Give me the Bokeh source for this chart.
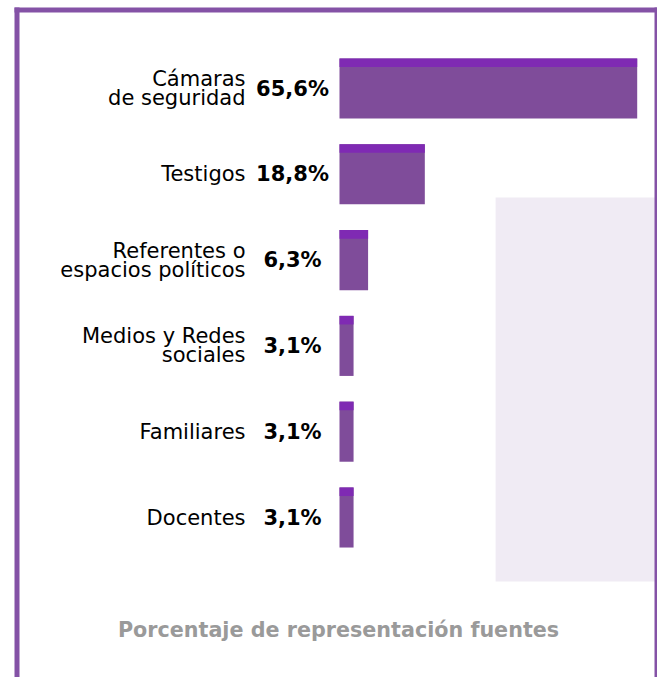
from bokeh.plotting import figure
from bokeh.models import Range1d, ColumnDataSource, BoxAnnotation
from bokeh.core.properties import value
from bokeh.embed import file_html
from bokeh.resources import INLINE

categories = ["Cámaras\nde seguridad", "Testigos", "Referentes o\nespacios políticos",
              "Medios y Redes\nsociales", "Familiares", "Docentes"]
values = [65.6, 18.8, 6.3, 3.1, 3.1, 3.1]
labels = ["65,6%", "18,8%", "6,3%", "3,1%", "3,1%", "3,1%"]
caption = "Porcentaje de representación fuentes"

n = len(categories)
ypos = [n - 1 - i for i in range(n)]

W, H = 657, 677
px_per_pct = 297.7 / 65.6
x0_px = 339.0
row_px = 85.8
y0_px = 517.0
FONT = "DejaVu Sans"

p = figure(width=W, height=H, output_backend="svg", toolbar_location=None,
           x_range=Range1d(-x0_px / px_per_pct, (W - x0_px) / px_per_pct),
           y_range=Range1d(-(H - y0_px) / row_px, y0_px / row_px),
           min_border=0, background_fill_color="white", border_fill_color="white")
p.axis.visible = False
p.grid.visible = False
p.outline_line_color = None

# decorative light panel
p.quad(left=[34.4], right=[90], bottom=[-0.746], top=[3.73],
       fill_color="#f0ebf4", line_color=None)

src = ColumnDataSource(dict(y=ypos, v=values, cat=categories, lab=labels,
                            ys=[y + 0.35 - 0.05 for y in ypos]))
p.hbar(y="y", left=0, right="v", height=0.7, source=src,
       fill_color="#7f4c9a", line_color=None)
p.hbar(y="ys", left=0, right="v", height=0.1, source=src,
       fill_color="#7f2ab3", line_color=None)

p.text(x=0, y="y", text="lab", source=src, x_offset=-47, text_align="center",
       text_baseline="middle", text_font=value(FONT), text_font_style="bold",
       text_font_size="21px", text_color="#000000")
p.text(x=0, y="y", text="cat", source=src, x_offset=-94, text_align="right",
       text_baseline="middle", text_font=value(FONT),
       text_font_size="21px", text_color="#000000", text_line_height=0.79)

p.text(x=[-0.22], y=[-1.317], text=[caption], text_align="center", text_baseline="middle",
       text_font=value(FONT), text_font_style="bold", text_font_size="20.7px",
       text_color="#9a9a9a")

# frame border (screen units measured from the bottom edge)
BORDER = "#8452a6"
for l, r, t, b in [(14, 19, 670, 0), (14, 657, 670, 665), (654, 657, 670, 0)]:
    p.add_layout(BoxAnnotation(left=l, right=r, top=t, bottom=b,
                               left_units="screen", right_units="screen",
                               top_units="screen", bottom_units="screen",
                               fill_color=BORDER, fill_alpha=1.0,
                               line_color=None, editable=False))

open("out.html", "w").write(file_html(p, INLINE))
